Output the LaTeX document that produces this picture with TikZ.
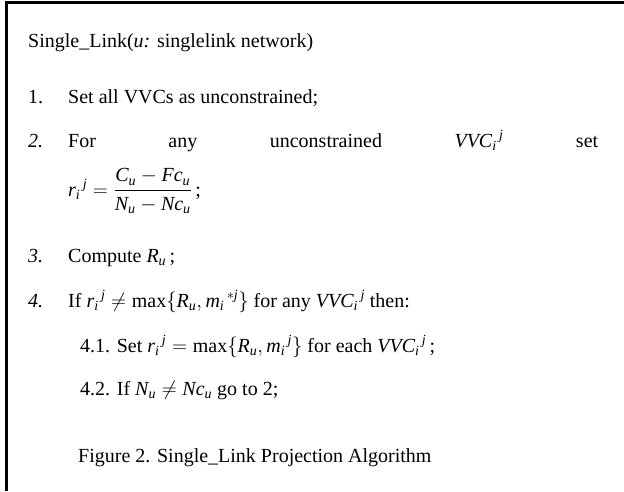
\documentclass[tikz,border=0pt]{standalone}
\usepackage{amsmath}
\usepackage{fontspec}
\setmainfont{Liberation Serif}
\newcommand{\im}[1]{\textit{#1}}
\newcommand{\rij}{\im{r}_{\im{i}}{}^{\,\im{j}}}
\newcommand{\vvc}{\im{VVC}_{\im{i}}{}^{\,\im{j}}}
\tikzset{
  line/.style={anchor=base west, inner sep=0pt, font=\fontsize{20}{24}\selectfont},
  frame/.style={line width=2.6pt}
}
\begin{document}
\begin{tikzpicture}[x=1pt,y=-1pt]
      \useasboundingbox (0,0) rectangle (624,491);
      \draw[frame] (624,2.5) -- (6.5,2.5) -- (6.5,491);
      \draw
        (28,47) node[line] (title){Single\_Link(\im{u:} singlelink network)}
        (28,103) node[line] (n1){1.}
        (68,103) node[line] (s1){Set all VVCs as unconstrained;}
        (28,147) node[line] (n2){\im{2.}}
        (68,147) node[line] (s2){\makebox[530pt][l]{For\hfill any\hfill unconstrained\hfill $\vvc$\hfill set}}
        (68,196) node[line] (frac){$\rij = \dfrac{\im{C}_{\im{u}} - \im{Fc}_{\im{u}}\rule[-4pt]{0pt}{4pt}}{\rule{0pt}{17pt}\im{N}_{\im{u}} - \im{Nc}_{\im{u}}}$\,;}
        (28,262) node[line] (n3){\im{3.}}
        (68,262) node[line] (s3){Compute $\im{R}_{\im{u}}$\,;}
        (28,307) node[line] (n4){\im{4.}}
        (68,307) node[line] (s4){If $\rij \neq \text{max}\{\im{R}_{\im{u}},\im{m}_{\im{i}}{}^{\,*\im{j}}\}$ for any $\vvc$ then:}
        (80,352) node[line] (s41){4.1. Set $\rij = \text{max}\{\im{R}_{\im{u}},\im{m}_{\im{i}}{}^{\,\im{j}}\}$ for each $\vvc$\,;}
        (80,395) node[line] (s42){4.2. If $\im{N}_{\im{u}} \neq \im{Nc}_{\im{u}}$ go to 2;}
        (78,462) node[line] (caption){Figure 2. Single\_Link Projection Algorithm};
    \end{tikzpicture}
\end{document}
